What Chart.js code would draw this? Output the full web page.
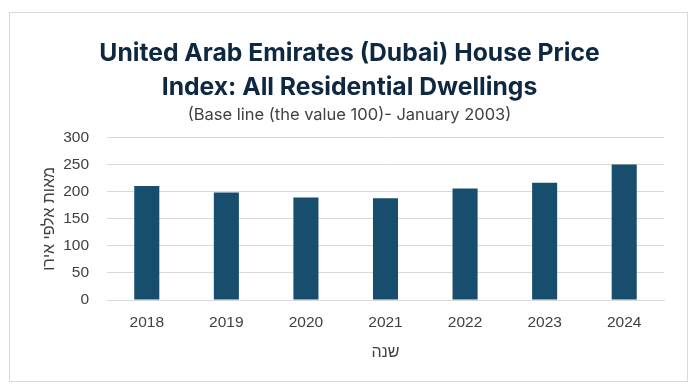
<!DOCTYPE html>
<html><head><meta charset="utf-8">
<script src="https://cdn.jsdelivr.net/npm/chart.js@4"></script>
<style>
html,body{margin:0;padding:0;background:#fff;}
#wrap{position:absolute;left:9px;top:12px;width:679px;height:370px;border:1px solid #d9d9d9;box-sizing:border-box;}
canvas{display:block;}
</style></head><body>
<div id="wrap"><canvas id="c"></canvas></div>
<script>
const categories = ["2018","2019","2020","2021","2022","2023","2024"];
const values = [211, 199, 189.5, 188, 206, 217, 250.5];
const yTicks = [0, 50, 100, 150, 200, 250, 300];
const titleLines = ["United Arab Emirates (Dubai) House Price", "Index: All Residential Dwellings"];
const subtitleText = "(Base line (the value 100)- January 2003)";
const yTitle = "מאות אלפי אירו";
const xTitle = "שנה";

new Chart(document.getElementById('c'), {
  type: 'bar',
  data: { labels: categories, datasets: [{ data: values, backgroundColor: '#174e6d', barPercentage: 1, categoryPercentage: 0.315 }] },
  options: {
    responsive: true, maintainAspectRatio: false, animation: false,
    layout: { padding: { left: 25, right: 23, top: 24, bottom: 19 } },
    plugins: {
      legend: { display: false }, tooltip: { enabled: false },
      title: { display: true, text: titleLines, color: '#0e2841', font: { family: 'Inter', size: 24.7, weight: 'bold', lineHeight: '34px' }, padding: { top: 0, bottom: 0 } },
      subtitle: { display: true, text: subtitleText, color: '#404040', font: { family: 'Inter', size: 16.5 }, padding: { top: 0, bottom: 13 } }
    },
    scales: {
      x: { grid: { display: false, drawTicks: false }, border: { color: '#d9d9d9' },
           afterFit: s => { s.height = 62; },
           ticks: { color: '#404040', font: { family: 'Liberation Sans', size: 15.5 }, padding: 13, maxRotation: 0 },
           title: { display: true, text: xTitle, color: '#404040', font: { family: 'Liberation Sans', size: 16 }, padding: { top: 0, bottom: 0 } } },
      y: { min: 0, max: 300, afterBuildTicks: a => { a.ticks = yTicks.map(v => ({ value: v })); },
           afterFit: s => { s.width = 72; },
           grid: { color: '#d9d9d9', drawTicks: false }, border: { display: false },
           ticks: { color: '#404040', font: { family: 'Liberation Sans', size: 15.5 }, padding: 18 },
           title: { display: true, text: yTitle, color: '#404040', font: { family: 'Liberation Sans', size: 16 }, padding: { top: 5, bottom: 0 } } }
    }
  }
});
</script></body></html>
